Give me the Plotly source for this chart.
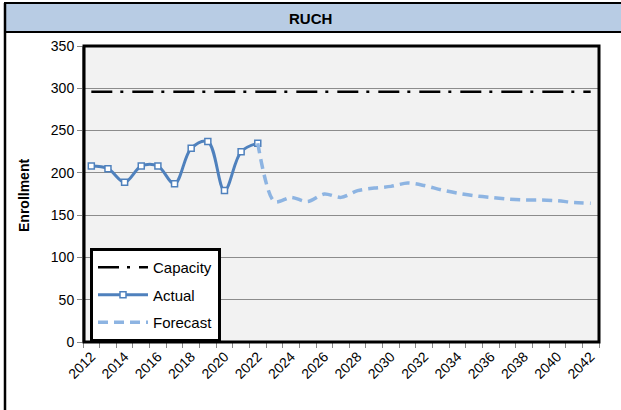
import plotly.graph_objects as go

# ---------------- data ----------------
YEARS = ["2012", "2013", "2014", "2015", "2016", "2017", "2018", "2019", "2020", "2021",
         "2022", "2023", "2024", "2025", "2026", "2027", "2028", "2029", "2030", "2031",
         "2032", "2033", "2034", "2035", "2036", "2037", "2038", "2039", "2040", "2041", "2042"]
TICK_LABELS = ["2012", "", "2014", "", "2016", "", "2018", "", "2020", "", "2022", "",
               "2024", "", "2026", "", "2028", "", "2030", "", "2032", "", "2034", "",
               "2036", "", "2038", "", "2040", "", "2042"]

ACTUAL_YEARS = ["2012", "2013", "2014", "2015", "2016", "2017", "2018", "2019", "2020", "2021", "2022"]
ACTUAL = [208, 205, 189, 208, 208, 187, 229, 237, 179, 225, 235]

FORECAST_YEARS = ["2022", "2023", "2024", "2025", "2026", "2027", "2028", "2029", "2030", "2031",
                  "2032", "2033", "2034", "2035", "2036", "2037", "2038", "2039", "2040", "2041", "2042"]
FORECAST = [235, 166, 171, 166, 175, 171, 179, 182, 184, 188,
            185, 180, 176, 173, 171, 169, 168, 168, 167, 165, 164]

CAPACITY = 296
TITLE = "RUCH"

# ---------------- geometry (pixels) ----------------
W, H = 621, 410
L, R, T, B = 83, 22, 46, 68
PW, PH = W - L - R, H - T - B


def px(x):
    return (x - L) / PW


def py(y):
    return (H - B - y) / PH


FONT = "Liberation Sans, Arial, sans-serif"

fig = go.Figure()

fig.add_trace(go.Scatter(
    x=YEARS, y=[CAPACITY] * len(YEARS), name="Capacity", mode="lines", legendgroup="c",
    line=dict(color="black", width=2.5, dash="21px,8px,3px,9px"),
))
fig.add_trace(go.Scatter(
    x=ACTUAL_YEARS, y=ACTUAL, name="Actual", mode="lines+markers", legendgroup="a",
    line=dict(color="#4F81BD", width=3, shape="spline", smoothing=1.0),
    marker=dict(symbol="square", size=6, color="white", line=dict(color="#4F81BD", width=1.5)),
))
fig.add_trace(go.Scatter(
    x=FORECAST_YEARS, y=FORECAST, name="Forecast", mode="lines", legendgroup="f",
    line=dict(color="#8DB4E2", width=3.5, shape="spline", smoothing=0.8, dash="10px,6px"),
))

shapes = [
    # title bar
    dict(type="rect", xref="paper", yref="paper", x0=px(5), x1=px(630), y0=py(3), y1=py(32),
         fillcolor="#B8CCE4", line=dict(color="black", width=2), layer="below"),
    # outer left border
    dict(type="line", xref="paper", yref="paper", x0=px(5), x1=px(5), y0=py(3), y1=py(420),
         line=dict(color="black", width=2.5)),
    # plot frame
    dict(type="rect", xref="paper", yref="paper", x0=0.002, x1=1, y0=0, y1=1,
         line=dict(color="black", width=3), layer="above"),
]

annotations = [
    dict(text="<b>" + TITLE + "</b>", xref="paper", yref="paper", x=px(310), y=py(18),
         showarrow=False, font=dict(family=FONT, size=15, color="black"),
         xanchor="center", yanchor="middle"),
    dict(text="<b>Enrollment</b>", xref="paper", yref="paper", x=px(24), y=py(196),
         showarrow=False, textangle=-90, font=dict(family=FONT, size=14, color="black"),
         xanchor="center", yanchor="middle"),
]

fig.update_layout(
    width=W, height=H,
    margin=dict(l=L, r=R, t=T, b=B, pad=0, autoexpand=False),
    paper_bgcolor="white", plot_bgcolor="#F2F2F2",
    font=dict(family=FONT, size=13, color="black"),
    showlegend=True,
    legend=dict(x=px(90), y=py(248), xanchor="left", yanchor="top",
                bgcolor="white", bordercolor="black", borderwidth=3,
                font=dict(family=FONT, size=15, color="black"),
                tracegroupgap=5, itemwidth=50),
    shapes=shapes, annotations=annotations,
    xaxis=dict(type="category", categoryorder="array", categoryarray=YEARS,
               range=[-0.5, len(YEARS) - 0.5], autorange=False,
               tickmode="array", tickvals=YEARS, ticktext=TICK_LABELS,
               tickson="boundaries", ticks="outside", ticklen=5, tickcolor="#888888",
               showline=True, linecolor="#888888", linewidth=1, showgrid=False,
               tickangle=-45, tickfont=dict(family=FONT, size=14, color="black"),
               zeroline=False),
    yaxis=dict(range=[0, 350], dtick=50, tick0=0, showgrid=True, gridcolor="#8C8C8C", gridwidth=1,
               ticks="outside", ticklen=5, tickcolor="#888888",
               showline=True, linecolor="#888888", linewidth=1, zeroline=False,
               tickfont=dict(family=FONT, size=14, color="black")),
)

fig.write_html("out.html", config={"displayModeBar": False},
               post_script="document.body.style.margin='0';document.body.style.padding='0';")
